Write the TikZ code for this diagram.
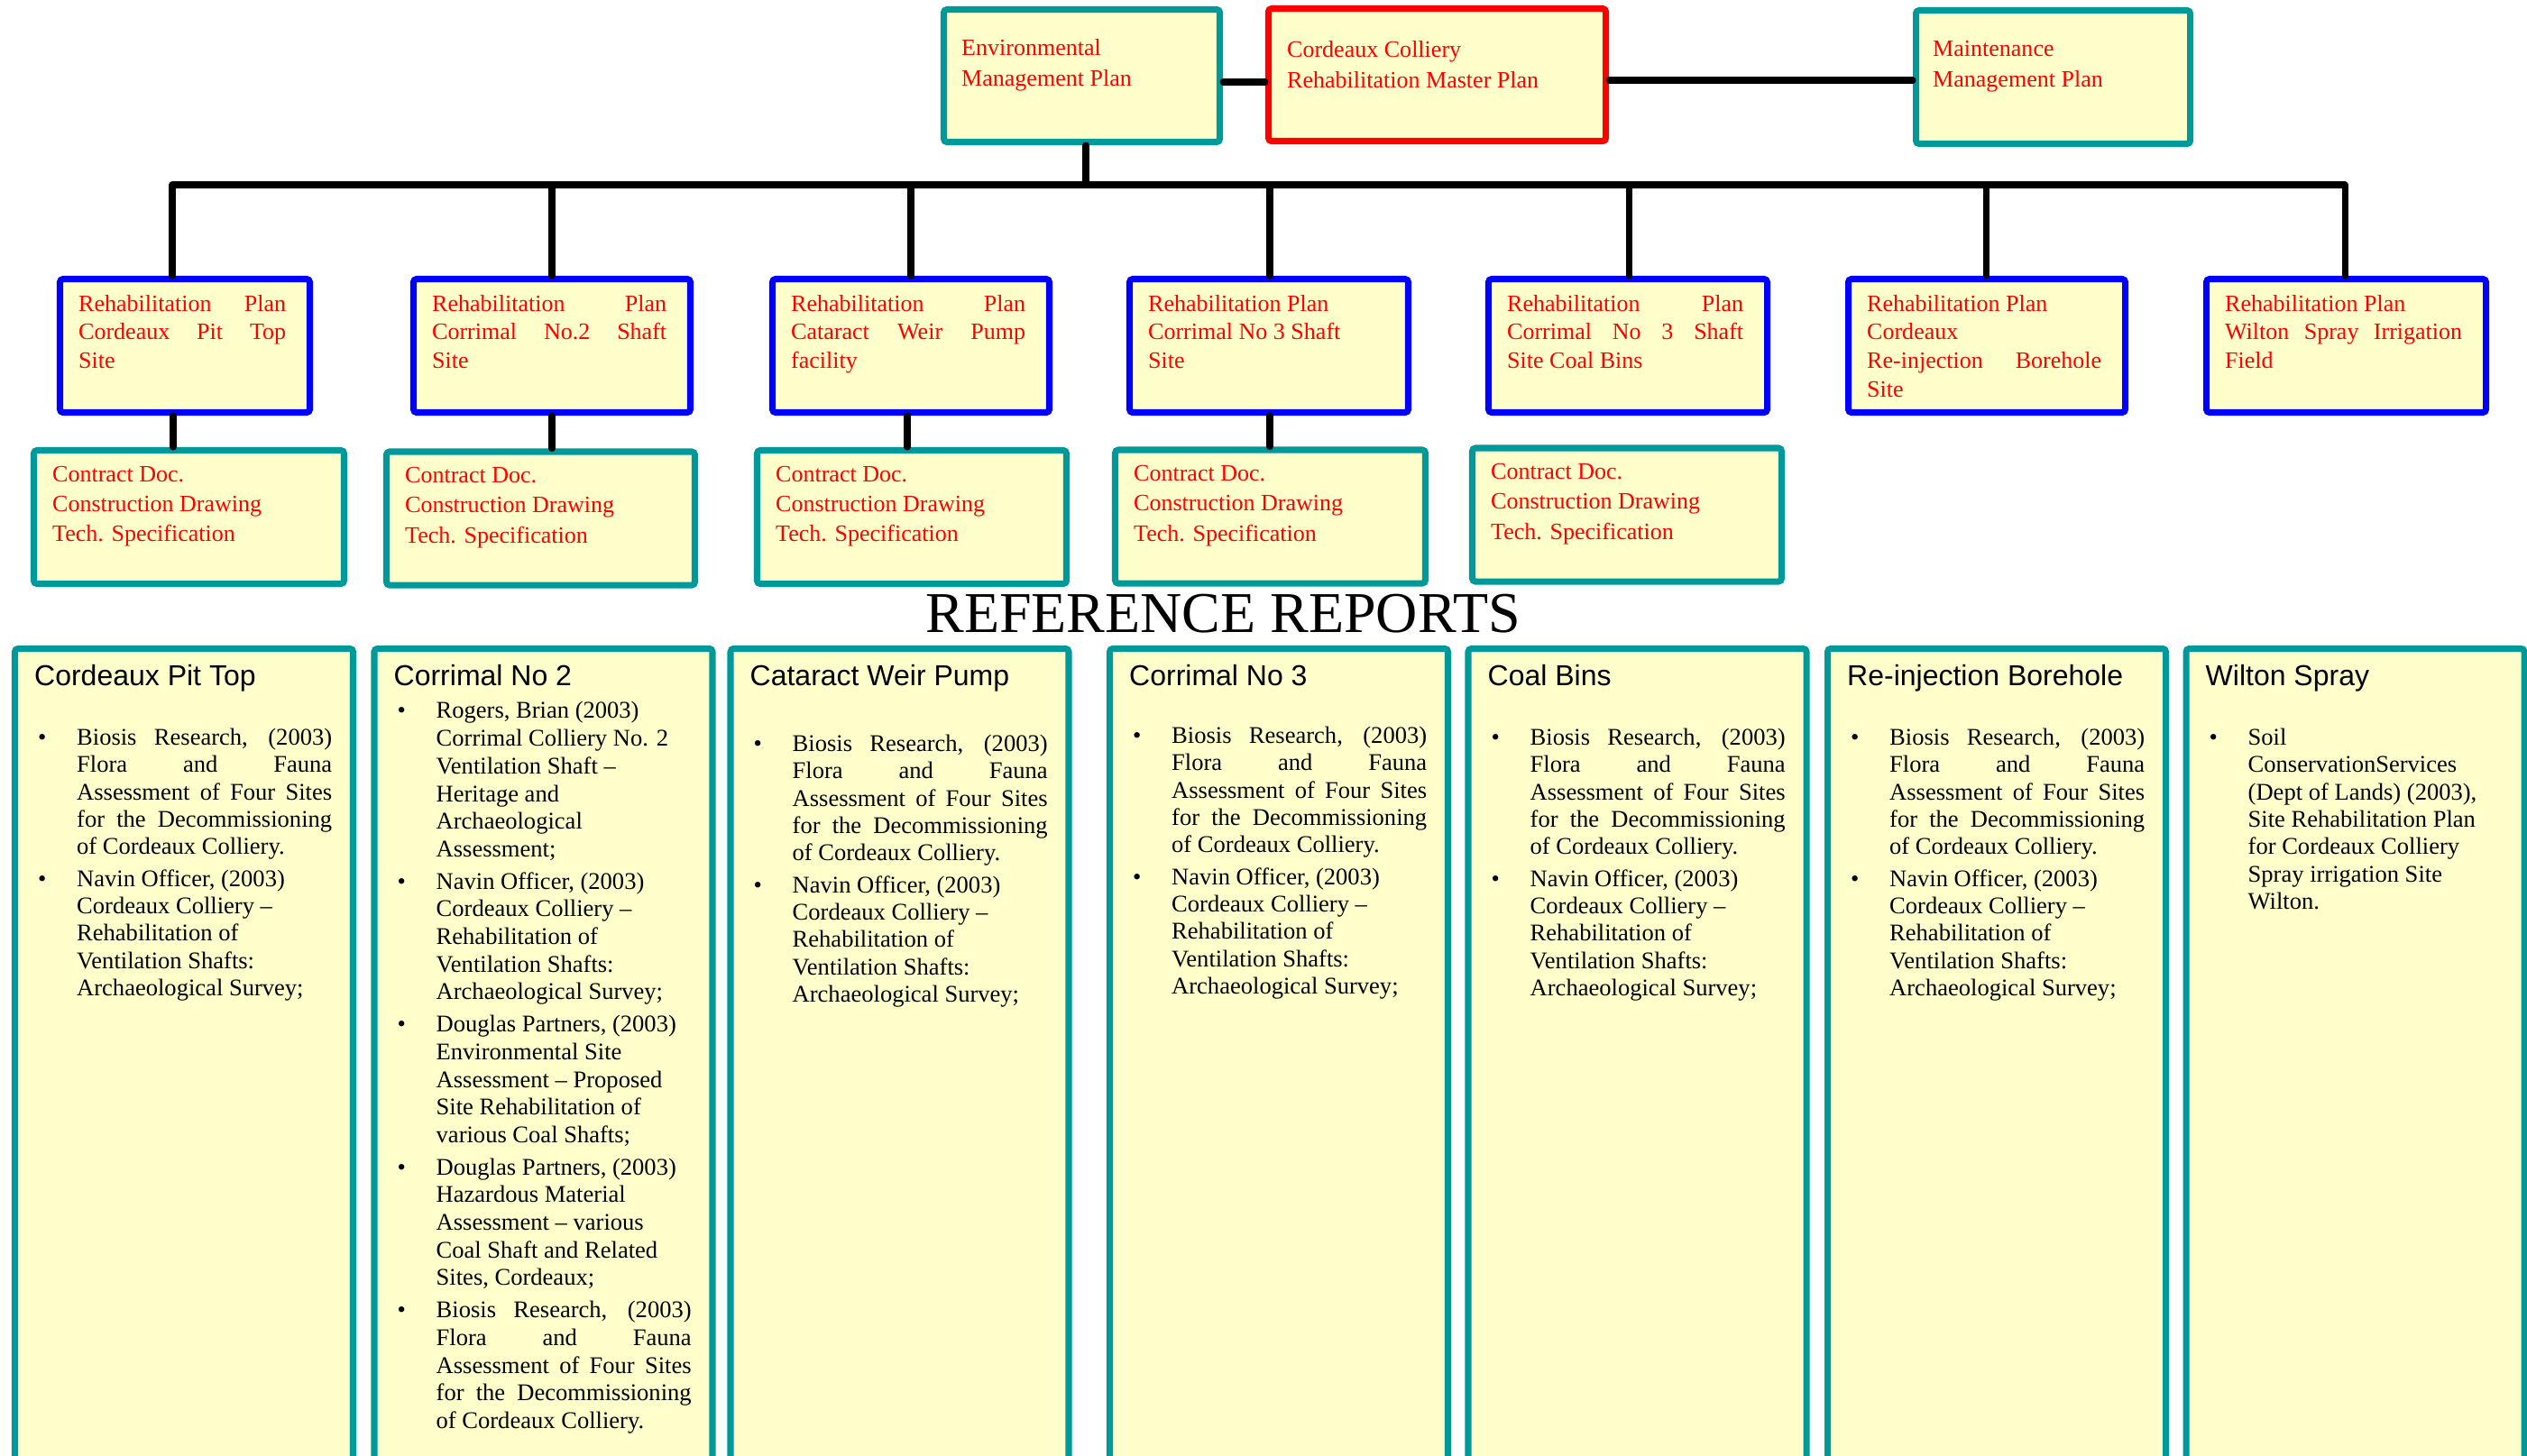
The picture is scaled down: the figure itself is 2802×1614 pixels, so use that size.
\documentclass[tikz,border=0pt]{standalone}
\usepackage{fontspec}
\setmainfont{Liberation Serif}
\setsansfont{Liberation Sans}
\usetikzlibrary{calc}

\definecolor{tealline}{RGB}{0,153,153}
\definecolor{blueline}{RGB}{0,0,255}
\definecolor{redline}{RGB}{255,0,0}
\definecolor{paleyellow}{RGB}{255,255,204}

\newdimen\pxu \pxu=0.01cm
\newcommand{\refitem}[1]{\par\setlength{\parskip}{5\pxu}\noindent\hangindent=43\pxu\hangafter=1\makebox[43\pxu][l]{\textbullet}#1\par}
\newcommand{\biosisref}{\refitem{Biosis Research, (2003)\linebreak Flora and Fauna\linebreak Assessment of Four Sites\linebreak for the Decommissioning\linebreak of Cordeaux Colliery.}}
\newcommand{\navinref}{\refitem{Navin Officer, (2003)\newline Cordeaux Colliery --\newline Rehabilitation of\newline Ventilation Shafts:\newline Archaeological Survey;}}

\tikzset{
  plate/.style={draw, line width=2pt, fill=paleyellow, rounded corners=1pt, inner sep=0pt},
  tealplate/.style={plate, draw=tealline},
  blueplate/.style={plate, draw=blueline},
  redplate/.style={plate, draw=redline},
  link/.style={line width=2pt, line cap=round},
  redtext/.style={text=redline, inner sep=0pt, anchor=north west, font=\fontsize{7.4}{9}\selectfont},
  headtext/.style={inner sep=0pt, anchor=base west, font=\sffamily\fontsize{9.1}{11}\selectfont},
  listtext/.style={inner sep=0pt, anchor=north west, text width=326\pxu, align=justify, font=\fontsize{7.55}{8.62}\selectfont}
}

\begin{document}
\begin{tikzpicture}[x=0.01cm,y=-0.01cm]
	\useasboundingbox (0,0) rectangle (2802,1614);
	\clip (0,0) rectangle (2802,1614);

	% master plan and its two partners
	\node[redplate, minimum width=374\pxu, minimum height=147\pxu] (master) at (1593.5,83) {};
	\node[tealplate, minimum width=306\pxu, minimum height=147\pxu] (env) at (1199.5,84) {};
	\node[tealplate, minimum width=304\pxu, minimum height=148\pxu] (maint) at (2276.5,85.5) {};
	\node[redtext, align=left, font=\fontsize{7.4}{9.7}\selectfont] (mastertxt) at ([shift={(23.5,38.5)}]master.north west) {Cordeaux Colliery\\Rehabilitation Master Plan};
	\node[redtext, align=left, font=\fontsize{7.4}{9.7}\selectfont] (envtxt) at ([shift={(22.5,35.5)}]env.north west) {Environmental\\Management Plan};
	\node[redtext, align=left, font=\fontsize{7.4}{9.7}\selectfont] (mainttxt) at ([shift={(21.5,36.5)}]maint.north west) {Maintenance\\Management Plan};

	% site rehabilitation plans
	\node[blueplate, minimum width=277\pxu, minimum height=148\pxu] (plan1) at (205,383.5) {};
	\node[blueplate, minimum width=307\pxu, minimum height=148\pxu] (plan2) at (612,383.5) {};
	\node[blueplate, minimum width=307\pxu, minimum height=148\pxu] (plan3) at (1010,383.5) {};
	\node[blueplate, minimum width=309\pxu, minimum height=148\pxu] (plan4) at (1407,383.5) {};
	\node[blueplate, minimum width=309\pxu, minimum height=148\pxu] (plan5) at (1805,383.5) {};
	\node[blueplate, minimum width=307\pxu, minimum height=148\pxu] (plan6) at (2203,383.5) {};
	\node[blueplate, minimum width=310\pxu, minimum height=148\pxu] (plan7) at (2601.5,383.5) {};

	\node[redtext, align=justify, text width=230\pxu] (plantxt1) at ([shift={(23.5,20.5)}]plan1.north west) {Rehabilitation Plan\linebreak Cordeaux Pit Top\linebreak Site};
	\node[redtext, align=justify, text width=260\pxu] (plantxt2) at ([shift={(23.5,20.5)}]plan2.north west) {Rehabilitation Plan\linebreak Corrimal No.2 Shaft\linebreak Site};
	\node[redtext, align=justify, text width=260\pxu] (plantxt3) at ([shift={(23.5,20.5)}]plan3.north west) {Rehabilitation Plan\linebreak Cataract Weir Pump\linebreak facility};
	\node[redtext, align=justify, text width=262\pxu] (plantxt4) at ([shift={(23.5,20.5)}]plan4.north west) {Rehabilitation Plan\newline Corrimal No 3 Shaft\newline Site};
	\node[redtext, align=justify, text width=262\pxu] (plantxt5) at ([shift={(23.5,20.5)}]plan5.north west) {Rehabilitation Plan\linebreak Corrimal No 3 Shaft\linebreak Site Coal Bins};
	\node[redtext, align=justify, text width=260\pxu] (plantxt6) at ([shift={(23.5,20.5)}]plan6.north west) {Rehabilitation Plan\newline Cordeaux\newline Re-injection Borehole\linebreak Site};
	\node[redtext, align=justify, text width=263\pxu] (plantxt7) at ([shift={(23.5,20.5)}]plan7.north west) {Rehabilitation Plan\newline Wilton Spray Irrigation\linebreak Field};

	% contract documents
	\foreach \i/\x/\y/\w in {1/209.5/573.5/344, 2/599.5/575/342, 3/1011/573.5/343, 4/1408.5/573/344, 5/1804/571/343}
	{
		\node[tealplate, minimum width=\w\pxu, minimum height=148\pxu] (cdoc\i) at (\x,\y) {};
		\node[redtext, align=left, font=\fontsize{7.4}{9.4}\selectfont] (cdoctxt\i) at ([shift={(23.5,20.5)}]cdoc\i.north west) {Contract Doc.\\Construction Drawing\\Tech. Specification};
	}

	% connectors
	\coordinate (busL) at (191,205);
	\coordinate (busR) at (2600,205);
	\draw[link] (busL) -- (busR);
	\draw[link] ([xshift=4.5\pxu]env.south) -- ([xshift=4.5\pxu]env.south |- busL);
	\draw[link] ([yshift=-7\pxu]env.east) -- ([yshift=-7\pxu]env.east -| master.west);
	\draw[link] ([yshift=-6\pxu]master.east) -- ([yshift=-6\pxu]master.east -| maint.west);
	\foreach \i/\dx in {1/-14,2/0,3/0,4/1,5/1,6/-1,7/-1.5}
		\draw[link] ([xshift=\dx\pxu]plan\i.north) -- ([xshift=\dx\pxu]plan\i.north |- busL);
	\foreach \i/\dx in {1/-13,2/0,3/-4,4/1}
		\draw[link] ([xshift=\dx\pxu]plan\i.south) -- ([xshift=\dx\pxu]plan\i.south |- cdoc\i.north);

	% reference reports
	\node[anchor=base, inner sep=0pt, font=\fontsize{18.2}{20}\selectfont] (reftitle) at (1356,701) {REFERENCE REPORTS};
	\foreach \i/\x in {1/204,2/602.5,3/997.5,4/1418,5/1815.5,6/2214,7/2611.5}
		\node[tealplate, minimum width=375\pxu, minimum height=930\pxu] (ref\i) at (\x,1184.5) {};
	\foreach \i/\h in {1/Cordeaux Pit Top,2/Corrimal No 2,3/Cataract Weir Pump,4/Corrimal No 3,5/Coal Bins,6/Re-injection Borehole,7/Wilton Spray}
		\node[headtext] (head\i) at ([shift={(24.5,44.5)}]ref\i.north west) {\h};

	\node[listtext] (list1) at ([shift={(28.5,74.5)}]ref1.north west) {\biosisref\navinref};
	\node[listtext, font=\fontsize{7.55}{8.73}\selectfont] (list2) at ([shift={(28.5,44.5)}]ref2.north west) {%
		\refitem{Rogers, Brian (2003)\newline Corrimal Colliery No. 2\newline Ventilation Shaft --\newline Heritage and\newline Archaeological\newline Assessment;}%
		\navinref
		\refitem{Douglas Partners, (2003)\newline Environmental Site\newline Assessment -- Proposed\newline Site Rehabilitation of\newline various Coal Shafts;}%
		\refitem{Douglas Partners, (2003)\newline Hazardous Material\newline Assessment -- various\newline Coal Shaft and Related\newline Sites, Cordeaux;}%
		\biosisref};
	\node[listtext] (list3) at ([shift={(28.5,81.5)}]ref3.north west) {\biosisref\navinref};
	\node[listtext] (list4) at ([shift={(28.5,72.5)}]ref4.north west) {\biosisref\navinref};
	\node[listtext] (list5) at ([shift={(28.5,74.5)}]ref5.north west) {\biosisref\navinref};
	\node[listtext] (list6) at ([shift={(28.5,74.5)}]ref6.north west) {\biosisref\navinref};
	\node[listtext] (list7) at ([shift={(28.5,74.5)}]ref7.north west) {\refitem{Soil\newline ConservationServices\newline (Dept of Lands) (2003),\newline Site Rehabilitation Plan\newline for Cordeaux Colliery\newline Spray irrigation Site\newline Wilton.}};
\end{tikzpicture}
\end{document}
